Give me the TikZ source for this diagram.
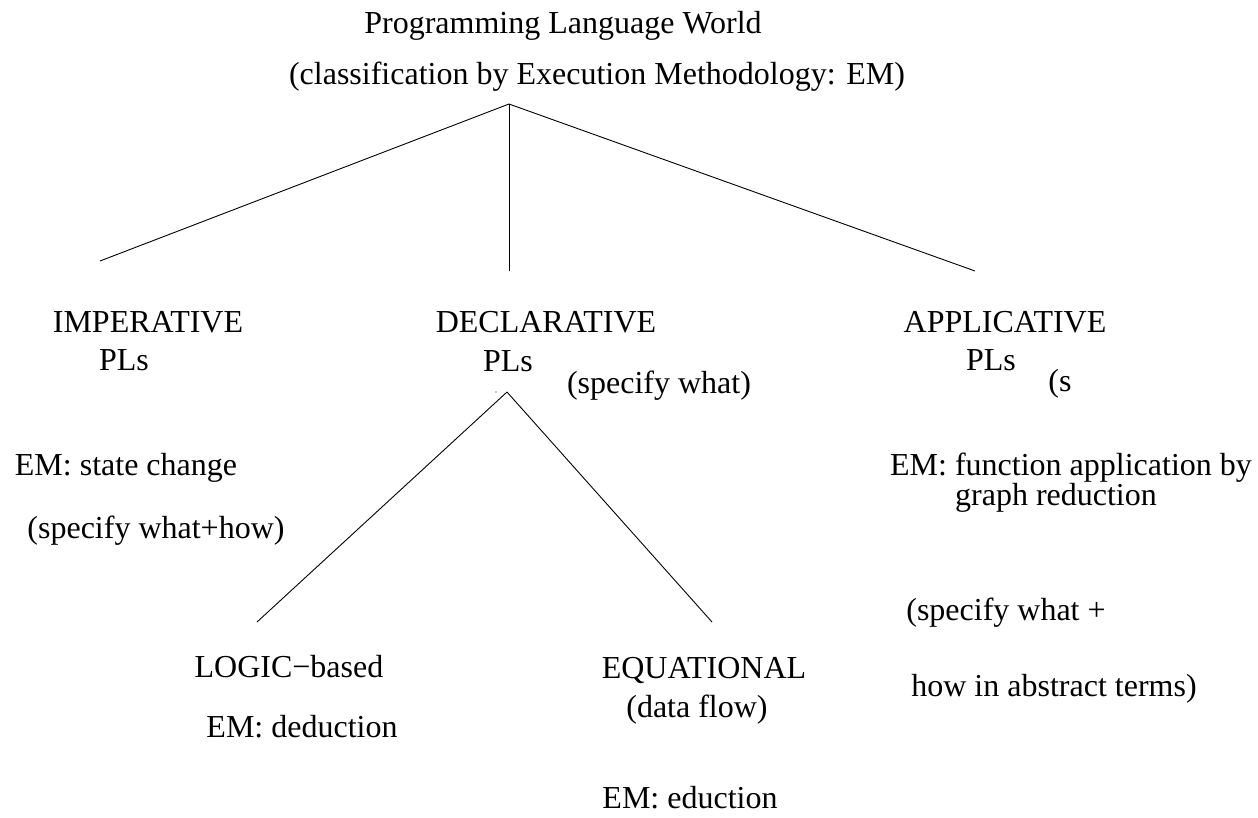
\documentclass[tikz,border=0pt]{standalone}
\usepackage{fontspec}
\setmainfont{Liberation Serif}
\usetikzlibrary{positioning}

\begin{document}
\begin{tikzpicture}[x=1pt, y=-1pt, line width=0.9pt,
    every node/.style={inner sep=0pt, anchor=base},
    font=\fontsize{32}{38}\selectfont]
      \useasboundingbox (0, 0) rectangle (1258, 817);

      % headline
      \node (title) at (563, 33) {Programming Language World};
      \node (subtitle) at (597, 84) {(classification by Execution Methodology: EM)};

      % branch points
      \coordinate (root) at (509, 104);
      \coordinate (impend) at (100, 261);
      \coordinate (decend) at (509, 271);
      \coordinate (append) at (975, 271);
      \coordinate (decroot) at (507, 392);
      \coordinate (logend) at (257, 622);
      \coordinate (equend) at (712, 622);

      \draw (root) -- (impend);
      \draw (root) -- (decend);
      \draw (root) -- (append);
      \draw (decroot) -- (logend);
      \draw (decroot) -- (equend);
      \fill (496, 392) circle (0.6);

      % imperative
      \node (imp) at (148, 332) {IMPERATIVE};
      \node (imppl) at (124, 370) {PLs};
      \node (impem) at (126, 475) {EM: state change};
      \node (impspec) at (156, 538) {(specify what+how)};

      % declarative
      \node (dec) at (546, 332) {DECLARATIVE};
      \node (decpl) at (508, 371) {PLs};
      \node (decspec) at (659, 393) {(specify what)};

      % applicative
      \node (app) at (1005, 332) {APPLICATIVE};
      \node (apppl) at (991, 370) {PLs};
      \node (apps) at (1060, 391) {(s};
      \node (appem) at (1071, 475) {EM: function application by};
      \node (appgr) at (1056, 505) {graph reduction};
      \node (appspec) at (1006, 620) {(specify what +};
      \node (appspecb) at (1054, 696) {how in abstract terms)};

      % below declarative
      \node (log) at (289, 677) {LOGIC\textminus based};
      \node (logem) at (302, 737) {EM: deduction};
      \node (equ) at (704, 678) {EQUATIONAL};
      \node (equdf) at (697, 717) {(data flow)};
      \node (equem) at (690, 808) {EM: eduction};
    \end{tikzpicture}
\end{document}
